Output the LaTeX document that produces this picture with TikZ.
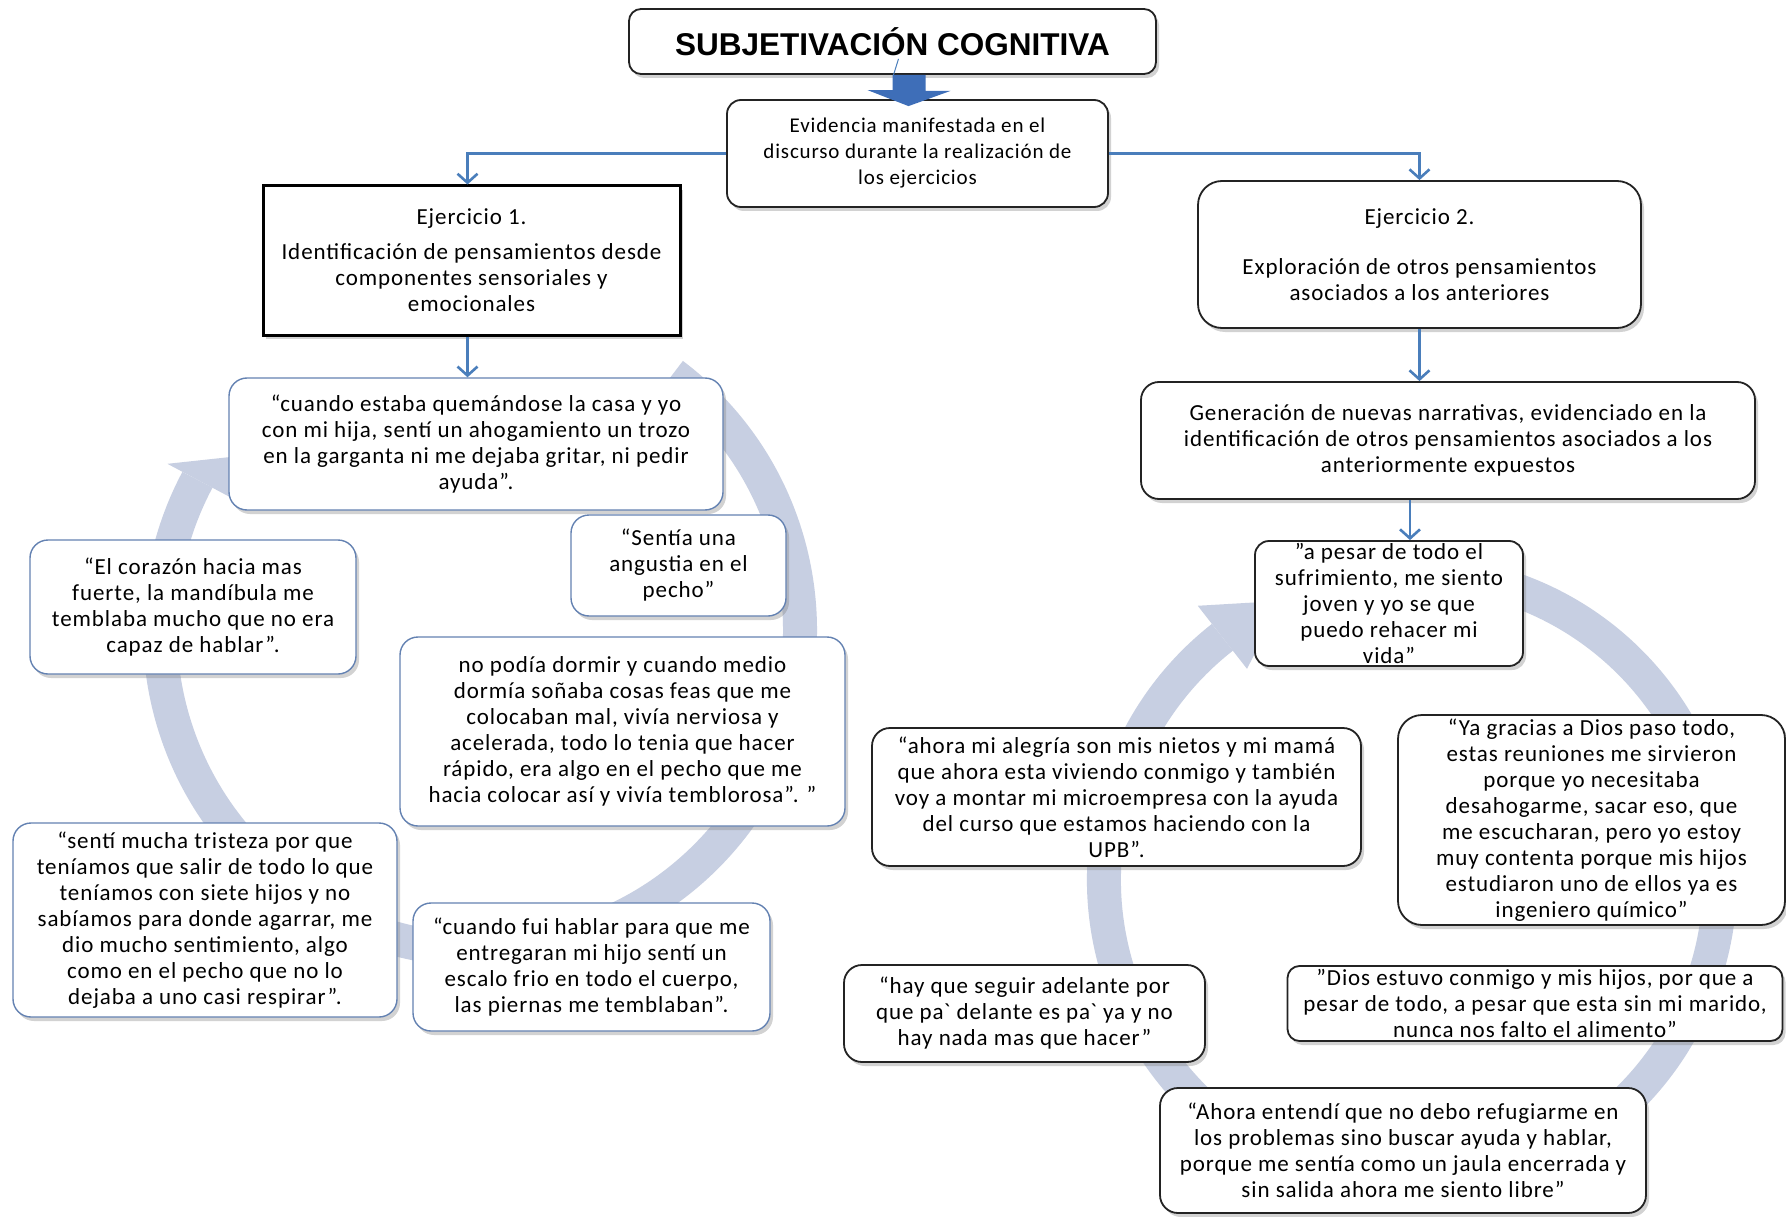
\documentclass[tikz,border=0pt]{standalone}
\usepackage{fontspec}
\setmainfont{Carlito}[LetterSpace=4]
\newfontfamily\titlefont{Liberation Sans}
\usetikzlibrary{arrows.meta}
\usetikzlibrary{positioning}
\usetikzlibrary{shadows}
\usetikzlibrary{calc}
\definecolor{linkblue}{RGB}{74,126,187}
\definecolor{ringblue}{RGB}{199,207,226}
\definecolor{quoteedge}{RGB}{100,130,178}
\definecolor{boxedge}{RGB}{35,35,35}
\definecolor{blockblue}{RGB}{62,110,184}
\tikzset{box/.style = {draw=boxedge, line width=1.8pt, fill=white,
                       rounded corners=14pt, align=center, inner sep=0pt,
                       drop shadow={shadow xshift=3pt, shadow yshift=-4pt, opacity=0.35},
                       font=\fontsize{23}{26}\selectfont},
         lquote/.style = {box, draw=quoteedge, line width=1.4pt, rounded corners=18pt},
         rquote/.style = {box, rounded corners=18pt},
         wh/.style 2 args = {minimum width=#1pt, minimum height=#2pt},
         link/.style = {draw=linkblue, line width=2.6pt,
                        -{Straight Barb[length=9pt, width=20pt, line width=2.6pt]}}}

\begin{document}
\begin{tikzpicture}[x=1pt, y=1pt]
    \fill [white] (0, 0) rectangle (1786, -1217);
    \useasboundingbox (0, 0) rectangle (1786, -1217);

    % circular arrows behind the quotes
    \coordinate (lc) at (480, -630);
    \draw [ringblue, line width=34pt] ($(lc)+(53:320)$) arc [start angle=53, end angle=-208, radius=320];
    \fill [ringblue] ($(lc)+(152:354)$) -- ($(lc)+(145:302)$) -- ($(lc)+(152:282)$) -- cycle;
    \coordinate (rc) at (1412, -880);
    \draw [ringblue, line width=34pt] ($(rc)+(70:308)$) arc [start angle=70, end angle=-232, radius=308];
    \fill [ringblue] ($(rc)+(128:348)$) -- ($(rc)+(115:308)$) -- ($(rc)+(128:268)$) -- cycle;

    \node [box, rounded corners=12pt, wh={527}{65}, font=\titlefont\bfseries\fontsize{31.5}{34}\selectfont] (title) at (892.5, -41.5) {SUBJETIVACIÓN COGNITIVA};
    \node [box, wh={381}{107}, font=\fontsize{21}{26}\selectfont] (evid) at (917.5, -153.5) {Evidencia manifestada en el\\discurso durante la realización de\\los ejercicios};

    \node [box, sharp corners, draw=black, line width=3pt, wh={417}{149}] (ej1) at (471.5, -260.5) {Ejercicio 1.\\[9pt]Identificación de pensamientos desde\\componentes sensoriales y\\emocionales};
    \node [box, rounded corners=24pt, wh={443}{147}] (ej2) at (1419.5, -254.5) {Ejercicio 2.\\[24pt]Exploración de otros pensamientos\\asociados a  los anteriores};

    \node [lquote, wh={494}{132}] (q1) at (476, -444) {“cuando estaba quemándose la casa y yo\\con mi hija, sentí un ahogamiento  un trozo\\en la garganta ni me dejaba gritar, ni pedir\\ayuda”.};
    \node [lquote, wh={215}{101}] (sentia) at (678.5, -565.5) {“Sentía  una\\angustia en el\\pecho”};
    \node [lquote, wh={326}{134}] (corazon) at (193, -607) {“El corazón hacia mas\\fuerte, la mandíbula me\\temblaba mucho que no era\\capaz de hablar”.};
    \node [lquote, wh={445}{189}] (dormir) at (622.5, -731.5) {no podía dormir y cuando medio\\dormía soñaba cosas feas que me\\colocaban mal,  vivía nerviosa y\\acelerada, todo lo tenia que hacer\\rápido, era algo en el pecho que me\\hacia colocar así y vivía temblorosa”. ”};
    \node [lquote, wh={384}{194}] (tristeza) at (205, -920) {“sentí mucha tristeza por que\\teníamos que salir de todo lo que\\teníamos con siete hijos y no\\sabíamos para donde agarrar, me\\dio mucho sentimiento,  algo\\como en el pecho que no lo\\dejaba a uno casi respirar”.};
    \node [lquote, wh={357}{128}] (fui) at (591.5, -967) {“cuando fui hablar para que me\\entregaran mi hijo sentí un\\escalo frio en todo el cuerpo,\\las piernas me temblaban”.};

    \node [rquote, wh={614}{117}] (gen) at (1448, -440.5) {Generación de nuevas narrativas,  evidenciado  en la\\identificación de otros pensamientos asociados  a los\\anteriormente expuestos};
    \node [rquote, rounded corners=14pt, wh={268}{125}] (pesar) at (1389, -603.5) {”a pesar de todo el\\sufrimiento, me siento\\joven y yo se que\\puedo rehacer mi\\vida”};
    \node [rquote, wh={489}{138}] (alegria) at (1116.5, -797) {“ahora mi alegría son mis nietos y mi mamá\\que ahora esta viviendo conmigo y también\\voy a montar  mi microempresa con la ayuda\\del curso que estamos  haciendo con la\\UPB”.};
    \node [rquote, rounded corners=24pt, wh={387}{210}] (gracias) at (1591.5, -820) {“Ya gracias a Dios paso todo,\\estas reuniones me sirvieron\\porque yo necesitaba\\desahogarme, sacar eso, que\\me escucharan, pero yo estoy\\muy contenta porque mis hijos\\estudiaron uno de ellos ya es\\ingeniero químico”};
    \node [rquote, wh={361}{97}] (seguir) at (1024.5, -1013.5) {“hay que seguir adelante por\\que pa\textasciigrave{} delante es pa\textasciigrave{} ya y no\\hay nada mas que hacer”};
    \node [rquote, rounded corners=12pt, wh={495}{75}] (dios) at (1535, -1003.5) {”Dios estuvo conmigo y mis hijos, por que a\\pesar de todo, a pesar que esta sin mi marido,\\nunca nos falto el alimento”};
    \node [rquote, wh={486}{125}] (ahora) at (1403, -1150.5) {“Ahora entendí que no debo refugiarme en\\los problemas sino buscar ayuda y hablar,\\porque me sentía como un jaula encerrada y\\sin salida ahora me siento libre”};

    \fill [blockblue] (title.south) -- ++(33, 0) -- ++(0, -16) -- ++(25, 0)
        -- ($(evid.north)+(-9, -7)$) -- ++(-41, 16) -- ++(25, 0) -- cycle;
    \draw [linkblue, line width=1pt] ([xshift=6pt, yshift=16pt]title.south) -- ([xshift=1pt]title.south);

    \draw [link] (evid.west) -| ([xshift=-4pt]ej1.north);
    \draw [link] (evid.east) -| (ej2.north);
    \draw [link] ([xshift=-4pt]ej1.south) -- ([xshift=-4pt]ej1.south |- q1.north);
    \draw [link] (ej2.south) -- (ej2.south |- gen.north);
    \draw [link] ([xshift=21pt]pesar.north |- gen.south) -- ([xshift=21pt]pesar.north);
\end{tikzpicture}
\end{document}
